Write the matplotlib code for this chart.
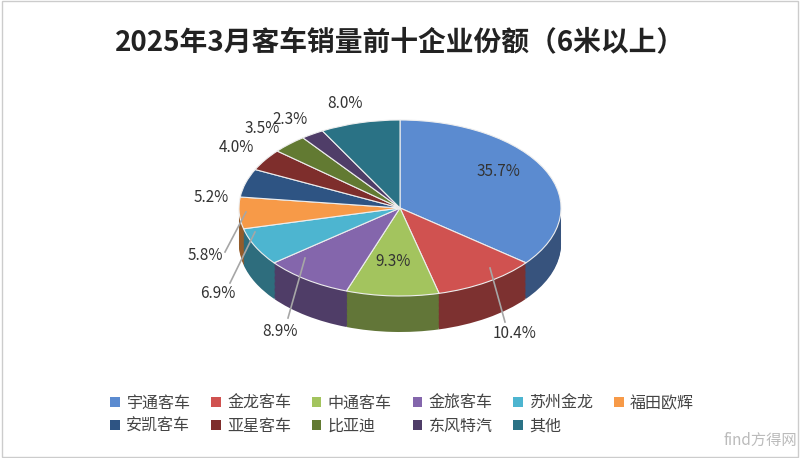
import matplotlib
matplotlib.use("Agg")
import matplotlib.pyplot as plt
import matplotlib.colors as mc
from matplotlib.patches import Patch, Rectangle

plt.rcParams['font.family'] = ['Noto Sans CJK SC', 'DejaVu Sans']

categories = ['宇通客车', '金龙客车', '中通客车', '金旅客车', '苏州金龙', '福田欧辉',
              '安凯客车', '亚星客车', '比亚迪', '东风特汽', '其他']
shares = [35.7, 10.4, 9.3, 8.9, 6.9, 5.8, 5.2, 4.0, 3.5, 2.3, 8.0]
colors = ['#5B8BD0', '#D05250', '#A3C45E', '#8466AC', '#4DB5D0', '#F79A48',
          '#2E5483', '#7E2E2C', '#627A32', '#4F3D68', '#2A7285']

W, H = 800, 458
fig = plt.figure(figsize=(8, 4.58), dpi=100)
fig.patches.append(Rectangle((0.002, 0.003), 0.996, 0.994, transform=fig.transFigure,
                             fill=False, edgecolor='#CCCCCC', lw=1))

cx, cy, rx, ry = 400, 208, 161, 88
ax = fig.add_axes([(cx - rx) / W, (H - cy - ry) / H, 2 * rx / W, 2 * ry / H])
depth = 36 / ry
n = 30
dark = [tuple(c * 0.6 for c in mc.to_rgb(col)) for col in colors]
for k in range(n, 0, -1):
    off = -depth * k / n
    ax.pie(shares, colors=dark, startangle=90, counterclock=False,
           center=(0, off), radius=1, frame=False, wedgeprops=dict(linewidth=0))
ax.pie(shares, colors=colors, startangle=90, counterclock=False, center=(0, 0),
       radius=1, frame=False, wedgeprops=dict(linewidth=0.8, edgecolor='#EEEEEE'))
ax.set_aspect('auto')
ax.set_xlim(-1, 1)
ax.set_ylim(-1, 1)
for p in ax.patches:
    p.set_clip_on(False)

def px(x, y):
    return x / W, 1 - y / H

labels_pos = [(498, 172), (515, 333), (393, 262), (280, 332), (218, 293), (205, 255),
              (211, 198), (236, 147), (262, 129), (290, 120), (345, 103)]
for s, (x, y) in zip(shares, labels_pos):
    fig.text(*px(x, y), f'{s:.1f}%', ha='center', va='center', fontsize=11, color='#333333')

leaders = [((505, 322), (490, 268)), ((288, 318), (305, 258)),
           ((230, 283), (255, 232)), ((225, 252), (246, 212))]
for (x0, y0), (x1, y1) in leaders:
    fig.add_artist(plt.Line2D([x0 / W, x1 / W], [1 - y0 / H, 1 - y1 / H],
                              color='#A6A6A6', lw=1.2))

fig.text(*px(400, 42), '2025年3月客车销量前十企业份额（6米以上）', ha='center', va='center',
         fontsize=20, fontweight='bold', color='#222222')

order = [0, 6, 1, 7, 2, 8, 3, 9, 4, 10, 5]
handles = [Patch(facecolor=colors[i], edgecolor='none') for i in order]
labs = [categories[i] for i in order]
fig.legend(handles, labs, ncol=6, loc='upper left',
           bbox_to_anchor=(0.128, 1 - 387 / H), bbox_transform=fig.transFigure,
           frameon=False, fontsize=11.5, handlelength=0.6, handleheight=0.6,
           handletextpad=0.4, columnspacing=1.3, labelspacing=0.35,
           labelcolor='#444444', borderpad=0)

fig.text(*px(760, 440), 'find方得网', ha='center', va='center', fontsize=11, color='#BBBBBB')

fig.savefig('out.png', dpi=100)
